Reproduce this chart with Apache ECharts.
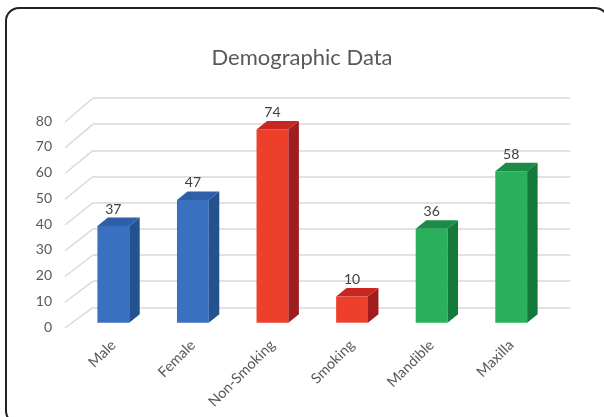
<!DOCTYPE html>
<html>
<head>
<meta charset="utf-8">
<script src="https://cdn.jsdelivr.net/npm/echarts@6/dist/echarts.min.js"></script>
<style>
  html, body { margin: 0; padding: 0; background: #fff; }
  #main { width: 604px; height: 417px; }
</style>
</head>
<body>
<div id="main"></div>
<script>
// data
var categories = ['Male', 'Female', 'Non-Smoking', 'Smoking', 'Mandible', 'Maxilla'];
var values = [37, 47, 74, 10, 36, 58];
var groups = [0, 0, 1, 1, 2, 2];   // blue, red, green
var yTicks = [0, 10, 20, 30, 40, 50, 60, 70, 80];

// colours per group: front, side, top
var palette = [
  { front: '#3a70c0', side: '#24528f', top: '#2e5fa8' },
  { front: '#ee3f2b', side: '#a11c1f', top: '#c8261f' },
  { front: '#2bb05e', side: '#137a3c', top: '#1a8c47' }
];

var DX = 10.5, DY = 8.5;   // depth of the bar
var font = 'Lato, "Open Sans", sans-serif';

var chart = echarts.init(document.getElementById('main'));

function renderBar(params, api) {
  var i = api.value(0);
  var top = api.coord([i, api.value(1)]);
  var base = api.coord([i, 0]);
  var w = api.size([1, 0])[0] * 0.4;
  var l = top[0] - w / 2, r = top[0] + w / 2;
  var c = palette[groups[i]];
  return {
    type: 'group',
    children: [
      { type: 'rect', shape: { x: l, y: top[1], width: w, height: base[1] - top[1] },
        style: { fill: c.front } },
      { type: 'polygon', shape: { points: [[r, top[1]], [r + DX, top[1] - DY], [r + DX, base[1] - DY], [r, base[1]]] },
        style: { fill: c.side } },
      { type: 'polygon', shape: { points: [[l, top[1]], [l + DX, top[1] - DY], [r + DX, top[1] - DY], [r, top[1]]] },
        style: { fill: c.top } },
      { type: 'text', x: top[0], y: top[1] - 17,
        style: { text: String(api.value(1)), fill: '#404040', font: '14px ' + font, align: 'center', verticalAlign: 'middle' } }
    ]
  };
}

chart.setOption({
  backgroundColor: '#fff',
  title: {
    text: 'Demographic Data',
    left: 'center',
    top: 42,
    textStyle: { color: '#595959', fontSize: 22, fontWeight: 'normal', fontFamily: font }
  },
  grid: [
    // back wall
    { left: 93, right: 34, top: 98, bottom: 109.7 },
    // front plane with the bars
    { left: 73.5, right: 53, top: 113.7, bottom: 94.3 },
    // y labels along the front edge of the side wall
    { left: 60, right: 500, top: 121, bottom: 90 }
  ],
  xAxis: [
    { gridIndex: 0, type: 'value', min: 0, max: 1, show: false },
    { gridIndex: 1, type: 'category', data: categories,
      axisLine: { show: false }, axisTick: { show: false },
      axisLabel: { rotate: 45, margin: 20, color: '#595959', fontSize: 14.5, fontFamily: font, interval: 0 } },
    { gridIndex: 2, type: 'value', min: 0, max: 1, show: false }
  ],
  yAxis: [
    { gridIndex: 0, type: 'value', min: 0, max: 80, interval: 10,
      axisLabel: { show: false }, axisLine: { show: false }, axisTick: { show: false },
      splitLine: { show: true, lineStyle: { color: '#d9d9d9', width: 1.5 } } },
    { gridIndex: 1, type: 'value', min: 0, max: 80, interval: 10, show: false },
    { gridIndex: 2, type: 'value', min: 0, max: 80, interval: 10,
      axisLine: { show: false }, axisTick: { show: false }, splitLine: { show: false },
      axisLabel: { color: '#595959', fontSize: 14, fontFamily: font, margin: 8 } }
  ],
  series: [{
    type: 'custom',
    xAxisIndex: 1,
    yAxisIndex: 1,
    renderItem: renderBar,
    data: values.map(function (v, i) { return [i, v]; }),
    z: 10
  }]
});

// side-wall lines from the label edge back to the wall, plus the frame
var sideLines = yTicks.map(function (v) {
  var a = chart.convertToPixel({ gridIndex: 2 }, [0, v]);
  var b = chart.convertToPixel({ gridIndex: 0 }, [0, v]);
  return {
    type: 'line',
    shape: { x1: a[0] + 5, y1: a[1] + 1, x2: b[0], y2: b[1] },
    style: { stroke: '#d9d9d9', lineWidth: 1.5 },
    z: 1
  };
});
sideLines.push({
  type: 'rect',
  shape: { x: 6, y: 8, width: 602, height: 416, r: 13 },
  style: { fill: null, stroke: '#222', lineWidth: 2 },
  z: 100
});
chart.setOption({ graphic: sideLines });
</script>
</body>
</html>
